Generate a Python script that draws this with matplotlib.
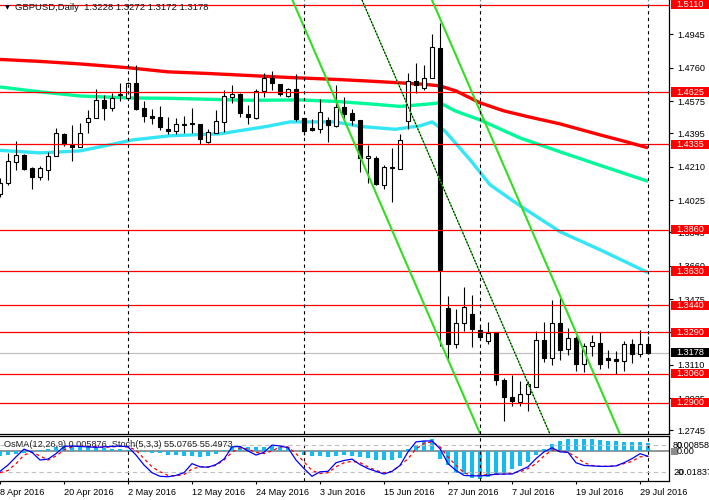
import matplotlib
matplotlib.use("Agg")
import matplotlib.pyplot as plt
import matplotlib.transforms as mtransforms
from matplotlib.patches import Rectangle

plt.rcParams["font.family"] = ["Liberation Sans", "DejaVu Sans"]

# daily GBPUSD bars, 8 Apr 2016 .. 1 Aug 2016 (bar index = position)
opens = [1.4058, 1.4119, 1.4236, 1.4275, 1.4204, 1.4152, 1.4191, 1.4272, 1.4393, 1.4332,
         1.4322, 1.4461, 1.4480, 1.4581, 1.4539, 1.4611, 1.4589, 1.4674, 1.4535, 1.4491,
         1.4485, 1.4420, 1.4409, 1.4447, 1.4455, 1.4447, 1.4350, 1.4400, 1.4458, 1.4596,
         1.4615, 1.4504, 1.4480, 1.4633, 1.4702, 1.4670, 1.4605, 1.4641, 1.4480, 1.4424,
         1.4419, 1.4470, 1.4439, 1.4541, 1.4508, 1.4470, 1.4256, 1.4258, 1.4106, 1.4210,
         1.4200, 1.4466, 1.4687, 1.4650, 1.4705, 1.4868, 1.3426, 1.3226, 1.3342, 1.3394,
         1.3305, 1.3240, 1.3290, 1.3028, 1.2930, 1.2904, 1.2949, 1.2987, 1.3250, 1.3148,
         1.3342, 1.3198, 1.3259, 1.3115, 1.3213, 1.3232, 1.3148, 1.3144, 1.3132, 1.3228,
         1.3171, 1.3228]
highs = [1.4149, 1.4289, 1.4354, 1.4282, 1.4208, 1.4215, 1.4291, 1.4424, 1.4395, 1.4443,
         1.4452, 1.4526, 1.4641, 1.4609, 1.4622, 1.4677, 1.4683, 1.4776, 1.4577, 1.4531,
         1.4546, 1.4485, 1.4480, 1.4493, 1.4535, 1.4450, 1.4419, 1.4526, 1.4637, 1.4665,
         1.4617, 1.4554, 1.4641, 1.4729, 1.4744, 1.4672, 1.4646, 1.4726, 1.4482, 1.4474,
         1.4585, 1.4484, 1.4665, 1.4600, 1.4530, 1.4472, 1.4332, 1.4267, 1.4221, 1.4313,
         1.4393, 1.4729, 1.4788, 1.4776, 1.4946, 1.5007, 1.3490, 1.3420, 1.3540, 1.3499,
         1.3330, 1.3346, 1.3292, 1.3037, 1.3056, 1.3018, 1.3018, 1.3300, 1.3346, 1.3472,
         1.3481, 1.3315, 1.3268, 1.3232, 1.3278, 1.3290, 1.3190, 1.3186, 1.3240, 1.3254,
         1.3305, 1.3272]
lows = [1.4041, 1.4106, 1.4193, 1.4193, 1.4089, 1.4137, 1.4134, 1.4270, 1.4326, 1.4243,
        1.4319, 1.4400, 1.4478, 1.4470, 1.4520, 1.4577, 1.4585, 1.4526, 1.4461, 1.4447,
        1.4415, 1.4393, 1.4393, 1.4397, 1.4400, 1.4337, 1.4341, 1.4397, 1.4405, 1.4563,
        1.4485, 1.4447, 1.4474, 1.4600, 1.4637, 1.4604, 1.4596, 1.4466, 1.4387, 1.4409,
        1.4400, 1.4350, 1.4433, 1.4470, 1.4443, 1.4178, 1.4119, 1.4110, 1.4088, 1.4012,
        1.4198, 1.4419, 1.4619, 1.4637, 1.4702, 1.3217, 1.3139, 1.3204, 1.3296, 1.3207,
        1.3245, 1.3223, 1.3000, 1.2797, 1.2880, 1.2880, 1.2852, 1.2985, 1.3126, 1.3108,
        1.3139, 1.3167, 1.3074, 1.3068, 1.3161, 1.3087, 1.3093, 1.3059, 1.3074, 1.3120,
        1.3152, 1.3172]
closes = [1.4119, 1.4243, 1.4275, 1.4200, 1.4152, 1.4202, 1.4272, 1.4397, 1.4337, 1.4322,
          1.4397, 1.4480, 1.4581, 1.4539, 1.4594, 1.4616, 1.4674, 1.4531, 1.4494, 1.4483,
          1.4428, 1.4411, 1.4447, 1.4441, 1.4448, 1.4363, 1.4402, 1.4465, 1.4604, 1.4615,
          1.4508, 1.4485, 1.4633, 1.4702, 1.4674, 1.4615, 1.4641, 1.4474, 1.4411, 1.4415,
          1.4516, 1.4443, 1.4544, 1.4504, 1.4470, 1.4258, 1.4271, 1.4114, 1.4208, 1.4205,
          1.4358, 1.4687, 1.4665, 1.4702, 1.4874, 1.3634, 1.3228, 1.3342, 1.3431, 1.3311,
          1.3265, 1.3287, 1.3024, 1.2930, 1.2908, 1.2949, 1.3004, 1.3250, 1.3148, 1.3342,
          1.3190, 1.3259, 1.3115, 1.3213, 1.3237, 1.3115, 1.3139, 1.3129, 1.3228, 1.3171,
          1.3228, 1.3178]

# moving averages read at sample bars
ma_red_x = [0, 5, 10, 16, 21, 26, 31, 36, 42, 46, 50, 53, 55, 57, 60, 63, 66, 70, 75, 78, 81]
ma_red_y = [1.4806, 1.4795, 1.4781, 1.4760, 1.4737, 1.4728, 1.4717, 1.4706, 1.4695, 1.4686,
            1.4676, 1.4668, 1.4659, 1.4631, 1.4565, 1.4520, 1.4488, 1.4448, 1.4387, 1.4352, 1.4315]
ma_green_x = [0, 5, 10, 16.25, 21.25, 31.25, 37.5, 41.9, 46.25, 50, 53.75, 55, 56.9, 60, 65, 70, 75, 81]
ma_green_y = [1.4653, 1.4626, 1.4603, 1.4592, 1.4590, 1.4579, 1.4581, 1.4573, 1.4559, 1.4545,
              1.4559, 1.4565, 1.4520, 1.4470, 1.4370, 1.4293, 1.4218, 1.4129]
ma_cyan_x = [0, 5, 10, 13.75, 16.6, 21.25, 27.5, 33.1, 36.25, 41.9, 45, 49.4, 52.5, 54,
             55.6, 56.9, 58.75, 61.25, 65, 70, 75, 81]
ma_cyan_y = [1.4301, 1.4287, 1.4298, 1.4332, 1.4359, 1.4382, 1.4393, 1.4432, 1.4459, 1.4459,
             1.4434, 1.4418, 1.4437, 1.4459, 1.4409, 1.4343, 1.4249, 1.4110, 1.3993, 1.3849,
             1.3749, 1.3622]

# downtrend channel (anchor bar, price)
chan_low_x, chan_low_y = [36.55, 60.0], [1.5136, 1.2728]
chan_high_x, chan_high_y = [54.0, 77.47], [1.5136, 1.2728]
chan_mid_x, chan_mid_y = [45.25, 68.72], [1.5136, 1.2728]

levels = [1.5110, 1.4625, 1.4335, 1.3860, 1.3630, 1.3440, 1.3290, 1.3060, 1.2900]
last_price = 1.3178
price_ticks = [1.2745, 1.2925, 1.3110, 1.3290, 1.3475, 1.3660, 1.3845, 1.4025,
               1.4210, 1.4395, 1.4575, 1.4760, 1.4945]
separators = [16, 38, 60, 81]
date_bars = [0, 8, 16, 24, 32, 40, 48, 56, 64, 72, 80]
date_labels = ["8 Apr 2016", "20 Apr 2016", "2 May 2016", "12 May 2016", "24 May 2016",
               "3 Jun 2016", "15 Jun 2016", "27 Jun 2016", "7 Jul 2016", "19 Jul 2016",
               "29 Jul 2016"]

osma = [-0.00319, -0.00274, -0.00182, -0.00091, -0.00046, 0.00068, 0.00182, 0.00319, 0.00365, 0.00365,
        0.00319, 0.00274, 0.00228, 0.00205, 0.00182, 0.00137, 0.00091, 0.00023, -0.00046, -0.00091,
        -0.00137, -0.00228, -0.00274, -0.00319, -0.00319, -0.00365, -0.00319, -0.0016, 0.00091, 0.00319,
        0.00319, 0.00274, 0.00274, 0.00319, 0.00365, 0.00319, 0.00274, 0.00046, -0.00274, -0.00319,
        -0.00319, -0.00365, -0.00319, -0.00274, -0.00319, -0.0041, -0.00456, -0.00593, -0.00593, -0.00593,
        -0.00456, 0.00137, 0.0041, 0.00684, 0.00866, -0.00547, -0.00958, -0.01459, -0.0155, -0.01824,
        -0.0187, -0.01733, -0.01642, -0.01459, -0.01231, -0.01003, -0.0073, -0.00274, 0.00137, 0.00502,
        0.00684, 0.00866, 0.00866, 0.00866, 0.00866, 0.00775, 0.0073, 0.00684, 0.00638, 0.00638,
        0.0062, 0.00588]
stoch_main = [22, 36, 54, 71, 64, 47, 49, 61, 77, 78, 77, 76, 75, 76, 77, 78, 76, 58, 36, 19,
              11, 10, 13, 19, 39, 32, 31, 37, 49, 76, 77, 67, 58, 64, 80, 78, 74, 47, 28, 11,
              21, 22, 41, 46, 49, 37, 28, 22, 16, 22, 35, 65, 87, 89, 89, 72, 39, 24, 13, 12,
              12, 13, 16, 16, 16, 24, 32, 50, 65, 74, 65, 64, 41, 35, 34, 33, 33, 34, 41, 50,
              61, 55.08]
stoch_signal = [19, 24, 39, 58, 64, 56, 47, 56, 69, 76, 78, 77, 76, 75, 76, 77, 76, 69, 50, 32,
                21, 13, 12, 15, 27, 32, 32, 35, 47, 64, 74, 71, 64, 61, 67, 76, 76, 61, 43, 24,
                17, 19, 32, 41, 44, 41, 32, 24, 19, 22, 35, 50, 71, 84, 87, 76, 54, 35, 19, 13,
                13, 15, 15, 16, 18, 21, 28, 39, 56, 69, 67, 64, 54, 41, 35, 33, 33, 34, 39, 44,
                54, 55.50]

W, H = 709, 500
fig = plt.figure(figsize=(W / 100, H / 100), dpi=100)
ax = fig.add_axes([0, 1 - 433.5 / H, 669 / W, 433.5 / H])
axs = fig.add_axes([0, 1 - 481.3 / H, 669 / W, (481.3 - 436) / H], sharex=ax)
axk = axs.twinx()

bars = list(range(len(closes)))
ax.set_xlim(0, 669 / 8)
ax.set_ylim(1.27283, 1.51361)

# moving averages (under candles)
ax.plot(ma_red_x, ma_red_y, color="#ff0000", lw=2.4, zorder=2, solid_capstyle="butt")
ax.plot(ma_green_x, ma_green_y, color="#00fa9a", lw=2.4, zorder=2, solid_capstyle="butt")
ax.plot(ma_cyan_x, ma_cyan_y, color="#33e6f5", lw=2.4, zorder=2, solid_capstyle="butt")

# candles
up = [c >= o for o, c in zip(opens, closes)]
ax.vlines(bars, lows, highs, color="black", lw=0.8, zorder=3)
ax.bar(bars, [abs(c - o) for o, c in zip(opens, closes)],
       bottom=[min(o, c) for o, c in zip(opens, closes)], width=0.6,
       color=["white" if u else "black" for u in up], edgecolor="black", lw=0.8, zorder=4)

# objects: levels, channel, current price
for lv in levels:
    ax.axhline(lv, color="#ff0000", lw=0.9, zorder=5)
ax.axhline(last_price, color="#c0c0c0", lw=0.9, zorder=1)
ax.plot(chan_low_x, chan_low_y, color="#33dd22", lw=1.5, zorder=5)
ax.plot(chan_high_x, chan_high_y, color="#33dd22", lw=1.5, zorder=5)
ax.plot(chan_mid_x, chan_mid_y, color="#33dd22", lw=0.8, zorder=5)
ax.plot(chan_mid_x, chan_mid_y, color="black", lw=0.8, ls=(0, (1.5, 1.5)), zorder=6)

for a in (ax, axs):
    for b in separators:
        a.axvline(b, color="black", lw=0.8, ls=(0, (3, 3)), zorder=7)

# axes styling
ax.spines["top"].set_visible(False)
ax.spines["left"].set_visible(False)
for a in (ax, axs, axk):
    for s in a.spines.values():
        s.set_linewidth(0.9)
ax.yaxis.tick_right()
ax.set_yticks(price_ticks)
ax.set_yticklabels([f"{t:.4f}" for t in price_ticks])
ax.tick_params(axis="y", direction="out", length=3, width=0.8, labelsize=6.6, pad=3)
ax.tick_params(axis="x", bottom=False, labelbottom=False)

blend = mtransforms.blended_transform_factory(ax.transAxes, ax.transData)
box_h = 0.0052
for lv in levels:
    ax.add_patch(Rectangle((1.003, lv - box_h / 2), 0.06, box_h, transform=blend,
                           clip_on=False, facecolor="#ff0000", edgecolor="none", zorder=10))
    ax.text(1.0105, lv, f"{lv:.4f}", transform=blend, ha="left", va="center",
            color="white", fontsize=6.6, zorder=11, clip_on=False)
ax.add_patch(Rectangle((1.003, last_price - box_h / 2), 0.06, box_h, transform=blend,
                       clip_on=False, facecolor="black", edgecolor="none", zorder=10))
ax.text(1.0105, last_price, f"{last_price:.4f}", transform=blend, ha="left", va="center",
        color="white", fontsize=6.6, zorder=11, clip_on=False)

fig.text(5 / W, 1 - 7.5 / H, "\u25bc", fontsize=4.5, ha="left", va="center",
         family="DejaVu Sans")
fig.text(15 / W, 1 - 7.5 / H, "GBPUSD,Daily  1.3228 1.3272 1.3172 1.3178",
         fontsize=6.8, ha="left", va="center", color="#111111")

# indicator panel: OsMA histogram + stochastic
axs.set_ylim(-0.02052, 0.01047)
axs.bar(bars, osma, width=0.42, color="#12bbf0", zorder=2)
axs.axhline(0, color="#8c8c8c", lw=1.3, zorder=1)
axs.spines["left"].set_visible(False)
axs.tick_params(axis="y", left=False, labelleft=False, right=False, labelright=False)
axs.set_xticks(date_bars)
axs.set_xticklabels(date_labels, ha="left", fontsize=6.6)
axs.tick_params(axis="x", direction="out", length=2.5, width=0.8, pad=2)

axk.set_ylim(0, 100)
axk.set_yticks([])
for s in axk.spines.values():
    s.set_visible(False)
axk.axhline(80, color="#c0c0c0", lw=0.8, ls=(0, (4, 3)), zorder=1)
axk.axhline(20, color="#c0c0c0", lw=0.8, ls=(0, (4, 3)), zorder=1)
axk.plot(bars, stoch_signal, color="#ff0000", lw=0.9, ls=(0, (2.5, 2.5)), zorder=3)
axk.plot(bars, stoch_main, color="#0000ff", lw=0.9, zorder=4)
axk.text(4 / 669, 81, "OsMA(12,26,9) 0.005876  Stoch(5,3,3) 55.0765 55.4973",
         transform=mtransforms.blended_transform_factory(axk.transAxes, axk.transData),
         fontsize=6.6, ha="left", va="center", color="#222222")

kblend = mtransforms.blended_transform_factory(axk.transAxes, axk.transData)
oblend = mtransforms.blended_transform_factory(axs.transAxes, axs.transData)
axk.text(1.012, 80, "0.008589", transform=kblend, fontsize=6.6, ha="left", va="center",
         clip_on=False)
axk.text(1.006, 80, "80", transform=kblend, fontsize=6.6, ha="left", va="center",
         clip_on=False)
axk.text(1.012, 20, "-0.01837", transform=kblend, fontsize=6.6, ha="left", va="center",
         clip_on=False)
axk.text(1.006, 20, "20", transform=kblend, fontsize=6.6, ha="left", va="center",
         clip_on=False)
axs.add_patch(Rectangle((1.003, -0.0022), 0.01, 0.0044, transform=oblend, clip_on=False,
                        facecolor="#8c8c8c", edgecolor="none", zorder=10))
axs.text(1.012, 0, "0.00", transform=oblend, fontsize=6.6, ha="left", va="center",
         clip_on=False, zorder=11)

fig.savefig("out.png", dpi=100)
